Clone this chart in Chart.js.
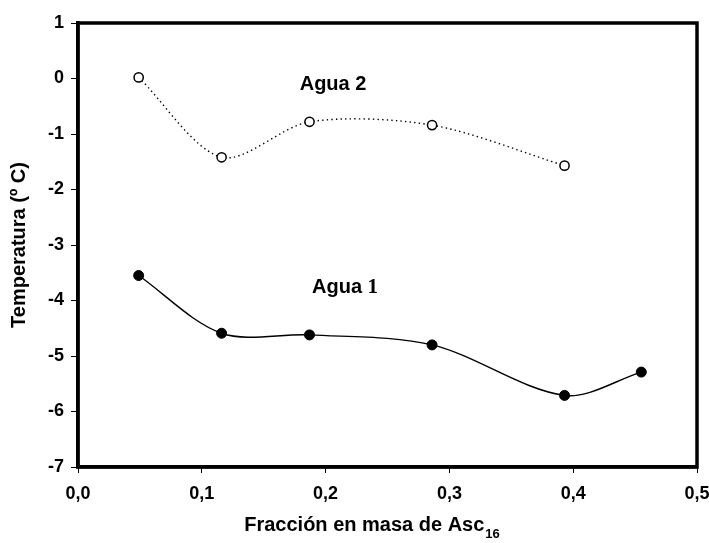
<!DOCTYPE html>
<html>
<head>
<meta charset="utf-8">
<script src="https://cdn.jsdelivr.net/npm/chart.js@4/dist/chart.umd.min.js"></script>
<style>
  html, body { margin: 0; padding: 0; background: #fff; }
  #wrap { width: 709px; height: 543px; }
</style>
</head>
<body>
<div id="wrap"><canvas id="c" width="709" height="543"></canvas></div>
<script>
// Mass fraction of Asc16 and freezing temperatures (ºC)
const fraccion = [0.049, 0.116, 0.187, 0.286, 0.393, 0.455];
const agua1 = [-3.55, -4.59, -4.62, -4.80, -5.71, -5.29];
const agua2 = [0.02, -1.42, -0.78, -0.84, -1.57];
const xTicks = [0.0, 0.1, 0.2, 0.3, 0.4, 0.5];
const yTicks = [1, 0, -1, -2, -3, -4, -5, -6, -7];

const SANS = '"Liberation Sans", Arial, sans-serif';
const SERIF = '"Liberation Serif", "Times New Roman", serif';

const toPts = (xs, ys) => ys.map((y, i) => ({ x: xs[i], y }));

// Frame, axis titles and in-plot series labels
const decor = {
  id: 'decor',
  afterDraw(chart) {
    const { ctx, chartArea: a, scales } = chart;
    ctx.save();
    ctx.strokeStyle = '#000';
    ctx.lineWidth = 3.5;
    ctx.strokeRect(a.left, a.top, a.right - a.left, a.bottom - a.top);

    ctx.fillStyle = '#000';
    ctx.textBaseline = 'alphabetic';

    // x title with subscript
    const main = 'Fracción en masa de Asc';
    const sub = '16';
    ctx.font = 'bold 20px ' + SANS;
    const wMain = ctx.measureText(main).width;
    ctx.font = 'bold 13px ' + SANS;
    const wSub = ctx.measureText(sub).width;
    const cx = (a.left + a.right) / 2 - 16;
    let x0 = cx - (wMain + wSub) / 2;
    ctx.textAlign = 'left';
    ctx.font = 'bold 20px ' + SANS;
    ctx.fillText(main, x0, 531);
    ctx.font = 'bold 13px ' + SANS;
    ctx.fillText(sub, x0 + wMain + 1, 538);

    // y title
    ctx.save();
    ctx.translate(25, (a.top + a.bottom) / 2);
    ctx.rotate(-Math.PI / 2);
    ctx.textAlign = 'center';
    ctx.font = 'bold 20px ' + SANS;
    ctx.fillText('Temperatura (º C)', 0, 0);
    ctx.restore();

    // series labels
    const sx = scales.x, sy = scales.y;
    ctx.textAlign = 'center';
    ctx.textBaseline = 'middle';
    ctx.font = 'bold 20px ' + SANS;
    ctx.fillText('Agua 2', sx.getPixelForValue(0.206), sy.getPixelForValue(-0.1));

    const p = 'Agua ';
    const wp = ctx.measureText(p).width;
    ctx.font = 'bold 21px ' + SERIF;
    const w1 = ctx.measureText('1').width;
    const lx = sx.getPixelForValue(0.2157) - (wp + w1) / 2;
    const ly = sy.getPixelForValue(-3.76);
    ctx.textAlign = 'left';
    ctx.font = 'bold 20px ' + SANS;
    ctx.fillText(p, lx, ly);
    ctx.font = 'bold 21px ' + SERIF;
    ctx.fillText('1', lx + wp, ly);
    ctx.restore();
  }
};

new Chart(document.getElementById('c'), {
  type: 'scatter',
  data: {
    datasets: [
      {
        label: 'Agua 1',
        data: toPts(fraccion, agua1),
        showLine: true,
        tension: 0.32,
        borderColor: '#000',
        borderWidth: 1.4,
        pointRadius: 5,
        pointBackgroundColor: '#000',
        pointBorderColor: '#000',
        pointBorderWidth: 1
      },
      {
        label: 'Agua 2',
        data: toPts(fraccion, agua2),
        showLine: true,
        tension: 0.3,
        borderColor: '#000',
        borderWidth: 1.4,
        borderDash: [1.4, 3.2],
        pointRadius: 4.6,
        pointBackgroundColor: '#fff',
        pointBorderColor: '#000',
        pointBorderWidth: 1.5
      }
    ]
  },
  options: {
    responsive: false,
    animation: false,
    devicePixelRatio: 1,
    layout: { padding: { top: 23, right: 0, left: 0, bottom: 0 } },
    plugins: { legend: { display: false }, tooltip: { enabled: false } },
    scales: {
      x: {
        type: 'linear',
        min: 0, max: 0.5,
        afterBuildTicks: s => { s.ticks = xTicks.map(v => ({ value: v })); },
        afterFit: s => { s.height = 76; s.paddingRight = 12; },
        grid: { drawOnChartArea: false, drawTicks: true, tickLength: 6, color: '#000', lineWidth: 1 },
        border: { display: true, color: '#000', width: 3.5 },
        ticks: {
          color: '#000',
          padding: 10,
          font: { family: SANS, size: 18, weight: 'bold' },
          callback: v => v.toFixed(1).replace('.', ',')
        }
      },
      y: {
        type: 'linear',
        min: -7, max: 1,
        afterBuildTicks: s => { s.ticks = yTicks.map(v => ({ value: v })); },
        afterFit: s => { s.width = 78; },
        grid: { drawOnChartArea: false, drawTicks: true, tickLength: 7, color: '#000', lineWidth: 1 },
        border: { display: true, color: '#000', width: 3.5 },
        ticks: {
          color: '#000',
          padding: 7,
          font: { family: SANS, size: 18, weight: 'bold' },
          callback: v => String(v)
        }
      }
    }
  },
  plugins: [decor]
});
</script>
</body>
</html>
